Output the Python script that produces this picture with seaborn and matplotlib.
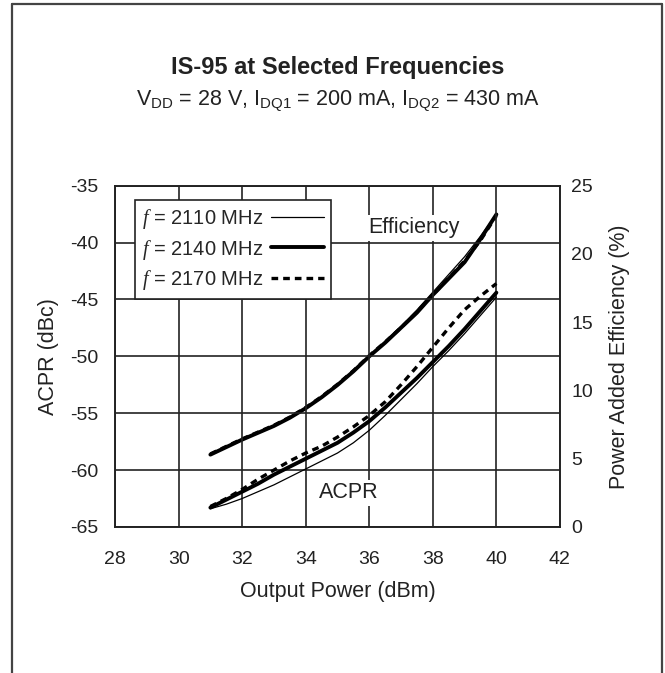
import seaborn as sns
import pandas as pd
import matplotlib.pyplot as plt

# data
pout = [31, 31.5, 32, 32.5, 33, 33.5, 34, 34.5, 35, 35.5,
        36, 36.5, 37, 37.5, 38, 38.5, 39, 39.5, 40]

acpr_2110 = [-63.4, -63.0, -62.5, -61.9, -61.3, -60.6, -59.9, -59.2, -58.5, -57.6,
             -56.5, -55.2, -53.8, -52.4, -50.9, -49.5, -48.0, -46.4, -44.8]
acpr_2140 = [-63.3, -62.6, -61.9, -61.2, -60.4, -59.7, -59.0, -58.3, -57.6, -56.7,
             -55.7, -54.5, -53.2, -51.9, -50.5, -49.1, -47.6, -46.0, -44.4]
acpr_2170 = [-63.2, -62.5, -61.7, -60.8, -60.0, -59.2, -58.5, -57.9, -57.1, -56.2,
             -55.2, -54.0, -52.5, -50.9, -49.2, -47.5, -45.9, -44.7, -43.6]

eff_2110 = [5.3, 5.85, 6.4, 6.9, 7.4, 8.0, 8.7, 9.5, 10.4, 11.4,
            12.5, 13.6, 14.7, 15.9, 17.2, 18.5, 19.8, 21.3, 22.9]
eff_2140 = [5.3, 5.85, 6.4, 6.9, 7.4, 8.0, 8.7, 9.5, 10.4, 11.4,
            12.5, 13.5, 14.6, 15.7, 17.0, 18.2, 19.4, 21.1, 22.9]
eff_2170 = [5.35, 5.9, 6.45, 6.95, 7.45, 8.05, 8.75, 9.55, 10.45, 11.45,
            12.55, 13.55, 14.6, 15.75, 17.0, 18.25, 19.5, 21.0, 22.8]

freqs = ['2110', '2140', '2170']
acpr = {'2110': acpr_2110, '2140': acpr_2140, '2170': acpr_2170}
eff = {'2110': eff_2110, '2140': eff_2140, '2170': eff_2170}

styles = {
    '2110': dict(lw=0.9, ls='-'),
    '2140': dict(lw=2.8, ls='-'),
    '2170': dict(lw=2.4, ls=(0, (2.0, 1.5))),
}

sns.set_style('white')
plt.rcParams['font.family'] = ['Liberation Sans', 'DejaVu Sans']
plt.rcParams['mathtext.fontset'] = 'custom'
plt.rcParams['mathtext.rm'] = 'Liberation Sans'
plt.rcParams['mathtext.it'] = 'Liberation Serif:italic'
plt.rcParams['axes.unicode_minus'] = False

ink = '#222222'

fig = plt.figure(figsize=(6.65, 6.73), dpi=100)
ax = fig.add_axes([0.173, 0.217, 0.669, 0.507])
ax2 = ax.twinx()

# outer frame (open at the bottom)
fig.add_artist(plt.Line2D([0.018, 0.018], [0.0, 0.994], color='#444444', lw=1.6))
fig.add_artist(plt.Line2D([0.018, 0.996], [0.994, 0.994], color='#444444', lw=1.6))
fig.add_artist(plt.Line2D([0.996, 0.996], [0.0, 0.994], color='#444444', lw=1.6))

for f in freqs:
    df = pd.DataFrame({'pout': pout, 'acpr': acpr[f]})
    sns.lineplot(data=df, x='pout', y='acpr', ax=ax, color='black',
                 linewidth=styles[f]['lw'], linestyle=styles[f]['ls'],
                 label=r'$f$ = ' + f + ' MHz')
    de = pd.DataFrame({'pout': pout, 'eff': eff[f]})
    sns.lineplot(data=de, x='pout', y='eff', ax=ax2, color='black',
                 linewidth=styles[f]['lw'], linestyle=styles[f]['ls'],
                 legend=False)

ax.set_xlim(28, 42)
ax.set_ylim(-65, -35)
ax2.set_ylim(0, 25)
ax.set_xticks(range(28, 43, 2))
ax.set_yticks(range(-65, -34, 5))
ax2.set_yticks(range(0, 26, 5))
ax.grid(True, color=ink, lw=1.2)
ax.set_axisbelow(True)
for a in (ax, ax2):
    for s in a.spines.values():
        s.set_color(ink)
        s.set_linewidth(1.2)
    a.tick_params(length=0, labelsize=14, colors=ink)
ax.tick_params(axis='y', pad=12)
ax.tick_params(axis='x', pad=17)
ax2.tick_params(axis='y', pad=8)

ax.set_xlabel('Output Power (dBm)', fontsize=15.5, color=ink, labelpad=10)
ax.set_ylabel('ACPR (dBc)', fontsize=15.5, color=ink, labelpad=8)
ax2.set_ylabel('Power Added Efficiency (%)', fontsize=15.5, color=ink, labelpad=12)

ax.text(37.4, -38.7, 'Efficiency', fontsize=15.5, ha='center', va='center',
        color=ink, bbox=dict(facecolor='white', edgecolor='none', pad=2))
ax.text(35.34, -62.0, 'ACPR', fontsize=15.5, ha='center', va='center',
        color=ink, bbox=dict(facecolor='white', edgecolor='none', pad=2))

leg = ax.legend(loc='upper left', bbox_to_anchor=(0.045, 0.957), markerfirst=False,
                fontsize=14.5, frameon=True, fancybox=False, borderpad=0.35,
                handlelength=2.6, handletextpad=0.4, labelspacing=0.3,
                borderaxespad=0)
leg.get_frame().set_edgecolor(ink)
leg.get_frame().set_linewidth(1.2)
leg.get_frame().set_alpha(1)
leg.set_zorder(5)
ax.set_zorder(ax2.get_zorder() + 1)
ax.patch.set_visible(False)

fig.text(0.508, 0.900, 'IS-95 at Selected Frequencies', ha='center', va='center',
         fontsize=17, fontweight='bold', color=ink)
fig.text(0.508, 0.851,
         r'V$_{\rm DD}$ = 28 V, I$_{\rm DQ1}$ = 200 mA, I$_{\rm DQ2}$ = 430 mA',
         ha='center', va='center', fontsize=15.5, color=ink)

fig.savefig('out.png', dpi=100, facecolor='white')
